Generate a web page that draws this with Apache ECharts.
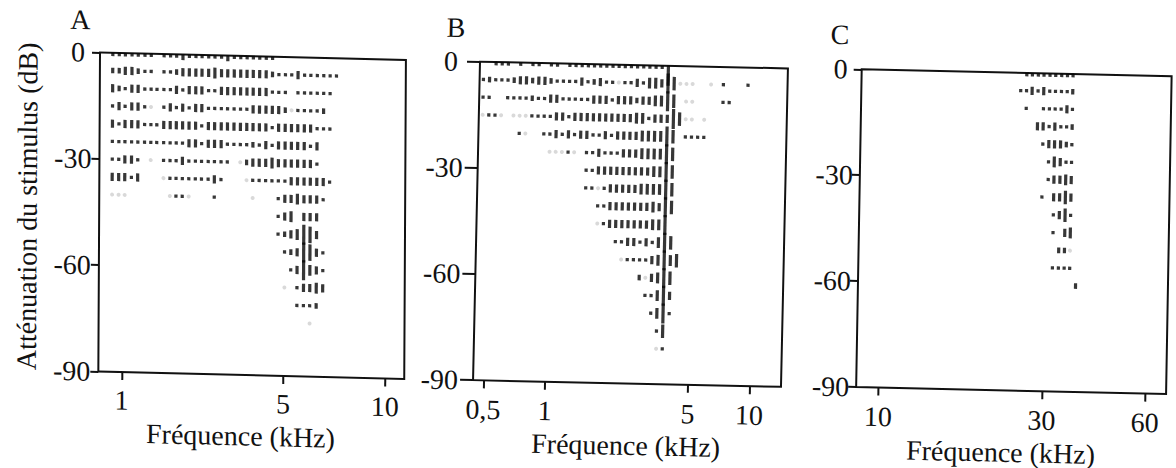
<!DOCTYPE html>
<html><head><meta charset="utf-8">
<script src="https://cdn.jsdelivr.net/npm/echarts@6/dist/echarts.min.js"></script>
<style>
html,body{margin:0;padding:0;background:#fff;width:1176px;height:468px;overflow:hidden;}
.p{position:absolute;left:0;top:0;width:1176px;height:468px;}
</style></head><body>
<div id="pa" class="p"></div><div id="pb" class="p"></div><div id="pc" class="p"></div>
<script>
// ---- data: attenuation levels (dB), one raster row per level ----
const dbLevels = [0,-5,-10,-15,-20,-25,-30,-35,-40,-45,-50,-55,-60,-65,-70,-75,-80];

// stimulus frequencies (kHz) of the raster columns
const freqA = [0.90,0.96,1.02,1.09,1.16,1.24,1.32,1.40,1.50,1.60,1.70,1.81,1.93,2.06,2.19,2.34,2.49,2.66,
               2.83,3.02,3.22,3.43,3.65,3.89,4.15,4.42,4.71,5.02,5.24,5.47,5.72,5.97,6.24,6.52,6.81,7.11];
const freqB = [0.463,0.496,0.532,0.570,0.611,0.655,0.702,0.752,0.806,0.864,0.926,0.992,1.063,1.140,1.222,
               1.309,1.403,1.504,1.612,1.728,1.852,1.985,2.127,2.280,2.443,2.619,2.807,3.008,3.224,3.455,
               3.704,3.969,4.254,4.559,4.886,5.237,5.613,6.015,6.447,6.910,7.406,7.937,8.506,9.117];
const freqC = [25.1,26.1,27.1,28.2,29.3,30.5,31.7,33.0,34.3,35.6,37.1];

// each row: [first column index, response codes per column]
// code: 0 = no response, 1..7 = spike count class (mark length), g = faint mark
const rowsA = [
  [0,"11111110111211111121111111"],
  [0,"223321101123333343333333321113111111"],
  [0,"32133111113133311333333331110111111"],
  [0,"131331g013131331111111333332g11112"],
  [0,"31333111333333133333333331333333111"],
  [0,"111111111111331333111121313333313"],
  [0,"113310g0111311111110g233343333331"],
  [0,"33313000g111111131000g1111113333331"],
  [0,"ggg000000g11g000100000g00013343331"],
  [26,"1340333"],
  [26,"1234763"],
  [27,"1237631"],
  [28,"137431"],
  [27,"g013343"],
  [29,"1112"],
  [31,"g"]
];
const rowsB = [
  [1,"011101011011011111111111111117"],
  [0,"1211123323321111312311g113144375ggg00g010001"],
  [0,"110011112113311111333133323344750gg000011"],
  [0,"g11g0ggg1111331333333333344133375gg0g"],
  [6,"1g00113131331131333344447501111"],
  [11,"ggg1g0113111333444475"],
  [17,"113333333334475"],
  [17,"11g133333444475"],
  [19,"1133333334375"],
  [19,"g13333333447"],
  [22,"1133131475"],
  [23,"g111134745"],
  [26,"2g3475"],
  [27,"11473"],
  [28,"1471"],
  [29,"15"],
  [29,"g1"]
];
const rowsC = [
  [1,"111111111"],
  [0,"1131311112"],
  [1,"100111131"],
  [3,"3313112"],
  [4,"133321"],
  [5,"14311"],
  [5,"13343"],
  [4,"103353"],
  [6,"1351"],
  [6,"1034"],
  [7,"22g"],
  [6,"1111"],
  [10,"2"]
];

// axis tick values (kHz) and their printed labels
const ticksA = [1,5,10],       tickLabelsA = ['1','5','10'];
const ticksB = [0.5,1,5,10],   tickLabelsB = ['0,5','1','5','10'];
const ticksC = [10,30,60],     tickLabelsC = ['10','30','60'];
const yTicks = [0,-30,-60,-90];

// ---- rendering ----
const SERIF = '"Liberation Serif","Times New Roman",serif';
const INK = '#111111';
const MARK = '#050505';
const barH = [0, 3.3, 5.6, 8.2, 10.8, 13.5, 16.5, 20];

// Panel A's printed frequency axis is not a uniform log scale:
// the 5-10 kHz octave is drawn wider than the 1-5 kHz span.
const A_STRETCH = 1.46;
const tfA = f => f <= 5 ? Math.log10(f) : Math.log10(5) + A_STRETCH * Math.log10(f / 5);
const tfLog = f => Math.log10(f);

function marks(freqs, rows, tf) {
  const dark = [], grey = [];
  rows.forEach((r, i) => {
    const db = dbLevels[i], start = r[0], codes = r[1];
    for (let j = 0; j < codes.length; j++) {
      const c = codes[j], f = freqs[start + j];
      if (f === undefined) continue;
      if (c === 'g') { grey.push([tf(f), db]); continue; }
      if (c === '0') continue;
      const n = +c;
      // marks of the 0 dB row hang below the top frame line instead of straddling it
      if (db === 0) dark.push({value: [tf(f), db, n], symbolOffset: [0, barH[n] / 2]});
      else dark.push([tf(f), db, n]);
    }
  });
  return {dark, grey};
}

function build(id, cfg) {
  const el = document.getElementById(id);
  const deg = Math.PI / 180;
  const a = cfg.skew[0] * deg, b = cfg.skew[1] * deg;
  el.style.transformOrigin = cfg.g[0] + 'px ' + cfg.g[1] + 'px';
  el.style.transform = 'matrix(' + Math.cos(a) + ',' + Math.sin(a) + ',' + (-Math.sin(b)) + ',' + Math.cos(b) + ',0,0)';
  const chart = echarts.init(el, null, {renderer: 'svg', width: 1176, height: 468});
  const m = marks(cfg.freqs, cfg.rows, cfg.tf);
  const tickPos = cfg.ticks.map(cfg.tf);
  const yAxis = {
    type: 'value', min: -90, max: 0, interval: 30, position: 'left',
    axisLine: {show: false, onZero: false}, splitLine: {show: false},
    axisTick: {show: true, length: cfg.yTick, lineStyle: {color: INK, width: 2}, customValues: yTicks},
    axisLabel: {
      customValues: yTicks, margin: cfg.yMargin, fontFamily: SERIF, fontSize: 28, color: INK,
      formatter: v => v === 0 ? '{z|0}' : String(v),
      rich: {z: {fontFamily: SERIF, fontSize: 28, color: INK, padding: [0, 7, 0, 0]}}
    }
  };
  if (cfg.yName) {
    Object.assign(yAxis, {
      name: cfg.yName, nameLocation: 'middle', nameRotate: 90, nameGap: 58,
      nameTextStyle: {fontFamily: SERIF, fontSize: 28, color: INK, padding: [0, 0, 0, 8]}
    });
  }
  chart.setOption({
    animation: false,
    grid: {left: cfg.g[0], top: cfg.g[1], width: cfg.g[2], height: cfg.g[3],
           show: true, borderColor: INK, borderWidth: 2, backgroundColor: 'transparent'},
    xAxis: {
      type: 'value', min: cfg.tf(cfg.xr[0]), max: cfg.tf(cfg.xr[1]), position: 'bottom',
      axisLine: {show: false, onZero: false}, splitLine: {show: false},
      axisTick: {show: true, length: 8, lineStyle: {color: INK, width: 2}, customValues: tickPos},
      axisLabel: {
        customValues: tickPos, margin: cfg.xMargin, fontFamily: SERIF, fontSize: 28, color: INK,
        formatter: v => {
          const i = tickPos.findIndex(t => Math.abs(t - v) < 1e-6);
          return i >= 0 ? cfg.tickLabels[i] : '';
        }
      },
      name: 'Fréquence (kHz)', nameLocation: 'middle', nameGap: cfg.nameGap,
      nameTextStyle: {fontFamily: SERIF, fontSize: 28, color: INK, padding: [0, cfg.namePad, 0, 0]}
    },
    yAxis: yAxis,
    graphic: [{type: 'text', left: cfg.letterPos[0], top: cfg.letterPos[1],
               style: {text: cfg.letter, font: '28px ' + SERIF, fill: INK}}],
    series: [
      {type: 'scatter', data: m.grey, symbol: 'circle', symbolSize: 4,
       itemStyle: {color: '#d0d0d0'}, silent: true, clip: true},
      {type: 'scatter', data: m.dark, symbol: 'rect',
       symbolSize: v => [3.2, barH[v[2]]], itemStyle: {color: MARK}, silent: true, clip: true}
    ]
  });
}

build('pa', {freqs: freqA, rows: rowsA, tf: tfA, xr: [0.792, 11.41],
  ticks: ticksA, tickLabels: tickLabelsA, g: [100, 52.5, 306, 319], skew: [1.4, 0.3],
  yTick: 8, yMargin: 8, xMargin: 14, nameGap: 39, namePad: 21, letter: 'A', letterPos: [70, 6],
  yName: 'Atténuation du stimulus (dB)'});
build('pb', {freqs: freqB, rows: rowsB, tf: tfLog, xr: [0.4435, 14.23],
  ticks: ticksB, tickLabels: tickLabelsB, g: [480, 61.7, 308, 318.5], skew: [1.25, 1.25],
  yTick: 13, yMargin: 15, xMargin: 15, nameGap: 40, namePad: 0, letter: 'B', letterPos: [446, 14]});
build('pc', {freqs: freqC, rows: rowsC, tf: tfLog, xr: [8.61, 69.0],
  ticks: ticksC, tickLabels: tickLabelsC, g: [861.7, 69.3, 310, 320.5], skew: [1.3, 1.0],
  yTick: 8, yMargin: 7, xMargin: 15, nameGap: 38, namePad: 19, letter: 'C', letterPos: [830, 21]});
</script>
</body></html>
